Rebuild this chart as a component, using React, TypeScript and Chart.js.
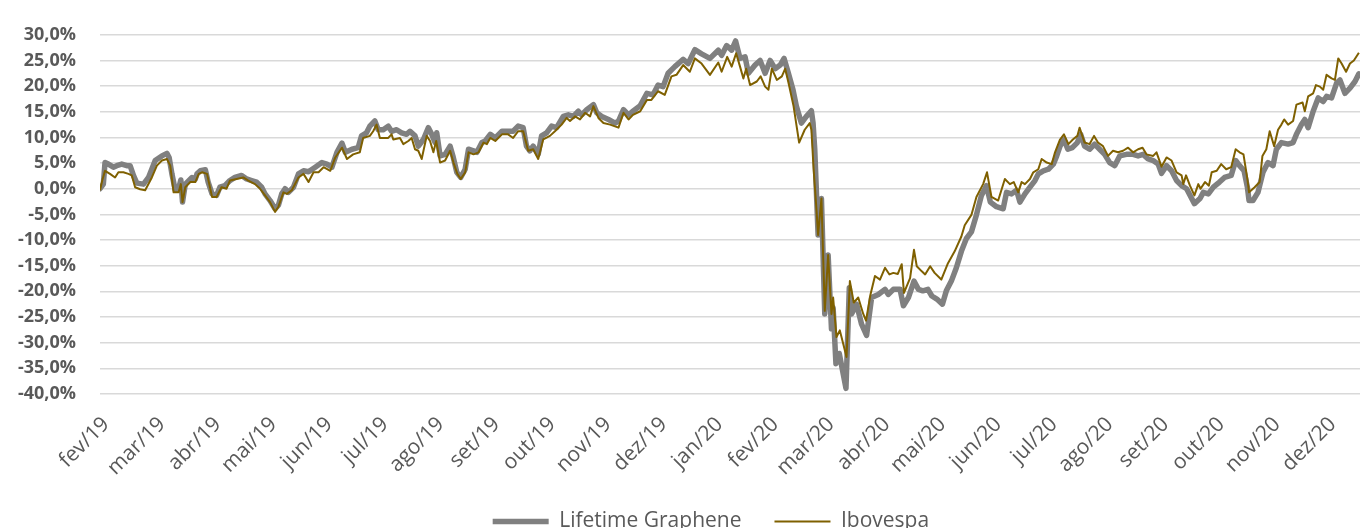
import React, { useEffect, useRef } from 'react';
import { Chart, registerables } from 'chart.js';

Chart.register(...registerables);

// Month tick labels (x = months since fev/19)
const monthLabels = [
  'fev/19', 'mar/19', 'abr/19', 'mai/19', 'jun/19', 'jul/19', 'ago/19', 'set/19',
  'out/19', 'nov/19', 'dez/19', 'jan/20', 'fev/20', 'mar/20', 'abr/20', 'mai/20',
  'jun/20', 'jul/20', 'ago/20', 'set/20', 'out/20', 'nov/20', 'dez/20',
];

const seriesNames = ['Lifetime Graphene', 'Ibovespa'];

// Lifetime Graphene: time (months since fev/19) and cumulative return (%)
const grapheneT = [
  -0.11, -0.05, -0.02, 0.04, 0.13, 0.19, 0.28, 0.37, 0.43, 0.49,
  0.55, 0.67, 0.76, 0.88, 1.0, 1.09, 1.13, 1.18, 1.24, 1.3,
  1.34, 1.37, 1.42, 1.54, 1.6, 1.63, 1.69, 1.78, 1.83, 1.9,
  1.98, 2.04, 2.13, 2.22, 2.31, 2.43, 2.52, 2.61, 2.7, 2.79,
  2.85, 2.94, 3.03, 3.09, 3.15, 3.21, 3.27, 3.36, 3.45, 3.54,
  3.63, 3.75, 3.87, 3.96, 4.05, 4.14, 4.23, 4.29, 4.41, 4.52,
  4.58, 4.67, 4.73, 4.82, 4.88, 4.97, 5.06, 5.12, 5.21, 5.3,
  5.39, 5.45, 5.54, 5.6, 5.69, 5.78, 5.84, 5.9, 5.93, 5.99,
  6.08, 6.17, 6.22, 6.29, 6.36, 6.44, 6.5, 6.59, 6.65, 6.74,
  6.8, 6.89, 6.98, 7.1, 7.21, 7.3, 7.39, 7.48, 7.54, 7.6,
  7.66, 7.75, 7.81, 7.9, 7.99, 8.08, 8.2, 8.29, 8.38, 8.47,
  8.53, 8.62, 8.74, 8.8, 8.89, 9.01, 9.13, 9.19, 9.28, 9.37,
  9.45, 9.58, 9.7, 9.81, 9.9, 9.99, 10.08, 10.2, 10.35, 10.44,
  10.56, 10.68, 10.83, 10.98, 11.04, 11.13, 11.22, 11.29, 11.37, 11.46,
  11.52, 11.64, 11.73, 11.82, 11.91, 12.0, 12.09, 12.16, 12.23, 12.32,
  12.38, 12.47, 12.56, 12.65, 12.68, 12.71, 12.77, 12.83, 12.89, 12.95,
  13.01, 13.04, 13.09, 13.15, 13.27, 13.33, 13.37, 13.46, 13.55, 13.64,
  13.73, 13.85, 13.97, 14.03, 14.12, 14.24, 14.3, 14.39, 14.49, 14.57,
  14.65, 14.74, 14.81, 14.9, 15.0, 15.07, 15.16, 15.25, 15.34, 15.43,
  15.52, 15.61, 15.7, 15.79, 15.86, 15.97, 16.09, 16.15, 16.24, 16.33,
  16.39, 16.48, 16.57, 16.66, 16.72, 16.81, 16.9, 16.99, 17.05, 17.11,
  17.18, 17.25, 17.33, 17.42, 17.48, 17.55, 17.64, 17.73, 17.82, 17.91,
  18.0, 18.09, 18.18, 18.3, 18.42, 18.51, 18.6, 18.69, 18.78, 18.87,
  18.93, 19.02, 19.11, 19.2, 19.29, 19.38, 19.52, 19.62, 19.68, 19.77,
  19.86, 19.97, 20.06, 20.18, 20.26, 20.33, 20.41, 20.47, 20.5, 20.57,
  20.66, 20.75, 20.84, 20.93, 20.99, 21.08, 21.2, 21.29, 21.35, 21.44,
  21.5, 21.56, 21.65, 21.74, 21.83, 21.89, 21.98, 22.07, 22.13, 22.22,
  22.31, 22.4, 22.47,
];
const grapheneV = [
  0.0, 0.9, 5.1, 4.8, 4.2, 4.5, 4.8, 4.5, 4.5, 2.6,
  1.1, 0.9, 2.2, 5.5, 6.4, 6.9, 6.1, 2.9, -0.3, 0.0,
  1.7, -2.6, 0.9, 2.2, 1.9, 2.9, 3.5, 3.7, 1.3, -1.0,
  -1.3, 0.3, 0.6, 1.6, 2.2, 2.6, 1.9, 1.6, 1.3, 0.3,
  -1.0, -2.3, -3.9, -3.2, -1.0, 0.0, -0.7, 0.3, 2.9, 3.5,
  3.3, 4.2, 5.1, 4.8, 4.2, 7.1, 8.9, 7.1, 7.7, 8.0,
  10.3, 10.9, 12.2, 13.2, 11.5, 11.5, 12.2, 11.2, 11.5, 10.9,
  10.6, 11.2, 10.3, 8.3, 9.6, 11.9, 10.6, 9.0, 10.9, 6.4,
  6.7, 8.3, 6.4, 3.2, 2.2, 3.8, 7.7, 7.4, 7.1, 9.0,
  9.3, 10.6, 9.9, 11.2, 11.2, 11.2, 12.2, 11.9, 8.3, 7.4,
  8.3, 6.7, 10.3, 10.9, 12.2, 11.9, 14.1, 14.4, 14.1, 15.1,
  14.4, 15.4, 16.4, 14.8, 14.1, 13.5, 12.8, 13.2, 15.4, 14.4,
  15.1, 16.2, 18.6, 18.3, 20.2, 19.9, 22.5, 23.8, 25.2, 24.4,
  27.1, 26.3, 25.4, 27.0, 26.0, 27.9, 27.0, 28.8, 25.4, 25.7,
  22.5, 24.1, 25.0, 22.5, 25.0, 23.4, 24.1, 25.4, 22.8, 19.3,
  16.1, 12.8, 14.1, 15.2, 12.8, 7.7, -9.0, -1.9, -24.4, -12.9,
  -27.3, -23.2, -34.1, -32.1, -38.9, -19.3, -24.4, -22.5, -26.4, -28.6,
  -21.2, -20.6, -19.6, -20.6, -19.6, -19.6, -22.8, -21.2, -18.0, -19.6,
  -19.9, -19.6, -20.9, -21.5, -22.5, -19.9, -18.0, -15.4, -12.2, -9.7,
  -8.4, -5.1, -1.3, 0.6, -2.6, -3.5, -3.9, -0.7, -1.0, -0.3,
  -2.6, -1.0, 0.3, 1.6, 2.9, 3.5, 3.8, 4.8, 6.4, 8.3,
  9.6, 7.7, 8.0, 9.0, 10.6, 8.3, 7.7, 8.7, 7.7, 6.7,
  5.1, 4.5, 6.4, 6.7, 6.7, 6.4, 6.7, 5.8, 5.5, 4.8,
  3.0, 4.5, 3.5, 1.6, 0.6, 0.0, -2.9, -1.9, -0.7, -1.0,
  0.3, 1.3, 2.2, 2.6, 5.5, 4.5, 3.5, 0.3, -2.3, -2.3,
  -0.7, 3.2, 5.1, 4.5, 7.7, 9.0, 8.7, 9.0, 10.6, 12.5,
  13.5, 11.9, 15.1, 17.7, 17.0, 18.0, 17.7, 20.6, 21.2, 18.6,
  19.6, 20.9, 22.4,
];

// Ibovespa: time (months since fev/19) and cumulative return (%)
const ibovespaT = [
  -0.11, -0.07, -0.02, 0.07, 0.16, 0.22, 0.31, 0.4, 0.46, 0.52,
  0.61, 0.7, 0.82, 0.91, 1.0, 1.09, 1.15, 1.21, 1.3, 1.34,
  1.37, 1.42, 1.51, 1.6, 1.66, 1.72, 1.81, 1.9, 1.98, 2.07,
  2.16, 2.22, 2.34, 2.46, 2.55, 2.67, 2.76, 2.85, 2.94, 3.03,
  3.09, 3.18, 3.24, 3.33, 3.45, 3.54, 3.63, 3.72, 3.81, 3.9,
  4.02, 4.11, 4.23, 4.32, 4.43, 4.55, 4.61, 4.73, 4.79, 4.85,
  4.91, 5.06, 5.12, 5.15, 5.27, 5.33, 5.42, 5.48, 5.54, 5.6,
  5.66, 5.75, 5.81, 5.87, 5.92, 5.99, 6.08, 6.17, 6.23, 6.3,
  6.36, 6.44, 6.5, 6.59, 6.68, 6.77, 6.83, 6.89, 6.98, 7.1,
  7.21, 7.3, 7.39, 7.48, 7.57, 7.66, 7.75, 7.84, 7.96, 8.05,
  8.17, 8.26, 8.32, 8.41, 8.5, 8.59, 8.68, 8.74, 8.83, 8.92,
  9.04, 9.19, 9.28, 9.37, 9.45, 9.58, 9.7, 9.78, 9.9, 10.02,
  10.14, 10.23, 10.35, 10.47, 10.56, 10.68, 10.83, 10.98, 11.04, 11.14,
  11.22, 11.3, 11.37, 11.43, 11.48, 11.55, 11.67, 11.74, 11.82, 11.88,
  11.94, 12.03, 12.12, 12.18, 12.24, 12.33, 12.43, 12.53, 12.62, 12.65,
  12.69, 12.74, 12.77, 12.83, 12.89, 12.95, 13.01, 13.04, 13.1, 13.16,
  13.28, 13.34, 13.41, 13.49, 13.58, 13.63, 13.71, 13.79, 13.88, 13.97,
  14.05, 14.12, 14.2, 14.27, 14.31, 14.42, 14.49, 14.54, 14.63, 14.69,
  14.78, 14.86, 14.98, 15.1, 15.22, 15.34, 15.4, 15.52, 15.61, 15.73,
  15.8, 15.88, 16.0, 16.12, 16.21, 16.28, 16.36, 16.42, 16.48, 16.57,
  16.63, 16.72, 16.78, 16.87, 16.96, 17.02, 17.11, 17.18, 17.26, 17.34,
  17.42, 17.46, 17.55, 17.64, 17.72, 17.79, 17.88, 17.97, 18.06, 18.15,
  18.24, 18.33, 18.42, 18.51, 18.59, 18.66, 18.78, 18.84, 18.93, 19.02,
  19.11, 19.2, 19.29, 19.32, 19.37, 19.44, 19.52, 19.59, 19.63, 19.71,
  19.78, 19.83, 19.92, 20.0, 20.09, 20.18, 20.26, 20.33, 20.4, 20.47,
  20.5, 20.6, 20.69, 20.74, 20.81, 20.87, 20.95, 21.02, 21.08, 21.13,
  21.2, 21.29, 21.35, 21.46, 21.5, 21.56, 21.65, 21.7, 21.77, 21.83,
  21.89, 21.98, 22.04, 22.1, 22.16, 22.24, 22.31, 22.38, 22.47,
];
const ibovespaV = [
  -0.3, 1.6, 3.5, 2.9, 2.2, 3.2, 3.2, 2.9, 2.6, 0.3,
  -0.1, -0.3, 2.2, 4.5, 5.5, 5.8, 4.5, -0.7, -0.7, 0.9,
  -2.6, 0.3, 1.3, 1.3, 2.9, 3.2, 2.9, -1.6, -1.6, 0.3,
  0.0, 1.6, 1.9, 2.2, 1.6, 0.9, 0.0, -1.3, -2.6, -4.5,
  -3.5, -0.7, -1.0, -0.3, 2.2, 2.9, 1.3, 3.2, 3.2, 4.2,
  3.5, 6.1, 8.0, 5.8, 6.7, 7.1, 9.9, 10.3, 11.2, 12.5,
  9.9, 9.9, 10.6, 9.6, 9.9, 8.7, 9.3, 9.9, 7.7, 7.4,
  5.8, 10.3, 9.3, 7.1, 9.3, 5.1, 5.5, 7.4, 5.1, 2.9,
  1.9, 3.2, 7.1, 6.7, 7.1, 9.0, 8.7, 9.9, 9.3, 10.6,
  10.6, 9.9, 11.2, 11.2, 7.4, 7.7, 5.8, 9.6, 10.3, 11.2,
  12.5, 13.8, 13.2, 14.1, 13.5, 14.8, 14.1, 16.1, 13.8, 12.8,
  12.5, 11.9, 14.8, 13.5, 14.4, 15.1, 17.3, 17.3, 19.0, 18.3,
  21.9, 22.2, 24.1, 22.8, 25.4, 24.4, 22.2, 24.6, 22.8, 25.7,
  23.8, 26.4, 23.8, 21.5, 23.4, 20.2, 20.9, 21.9, 19.9, 19.3,
  23.4, 21.2, 21.9, 23.4, 20.6, 16.1, 9.0, 11.5, 12.8, 11.5,
  3.8, -3.9, -9.0, -1.9, -23.8, -12.9, -24.4, -21.2, -28.9, -27.6,
  -32.8, -18.0, -22.2, -21.2, -24.4, -25.7, -20.6, -17.0, -17.7, -15.4,
  -16.7, -16.4, -16.6, -14.7, -20.3, -17.4, -11.9, -15.1, -16.1, -16.7,
  -15.1, -16.4, -17.7, -14.5, -12.2, -9.3, -7.1, -5.1, -1.6, 0.9,
  3.2, -1.6, -2.3, 1.9, 0.9, 1.3, -0.7, 1.3, 0.9, 1.9,
  3.2, 3.8, 5.8, 5.1, 4.8, 7.1, 9.6, 10.6, 8.7, 9.6,
  10.3, 11.9, 9.0, 8.7, 10.3, 9.0, 8.3, 6.4, 7.4, 7.1,
  7.4, 8.0, 7.1, 7.7, 8.0, 6.7, 6.4, 7.1, 4.3, 6.1,
  5.5, 3.2, 2.6, 0.9, 2.6, 0.6, -1.3, 0.9, 0.0, 1.3,
  0.6, 3.2, 3.5, 4.8, 3.8, 4.2, 7.7, 7.1, 6.7, 1.9,
  -0.7, 0.3, 1.3, 6.4, 7.7, 11.2, 8.3, 11.5, 12.5, 13.5,
  12.5, 13.2, 16.4, 16.8, 15.1, 18.0, 18.6, 20.2, 19.9, 19.3,
  22.2, 21.5, 21.2, 25.4, 24.4, 22.8, 24.4, 25.0, 26.5,
];

// Axis ranges
const yMin = -40;
const yMax = 30;
const yStep = 5;
const xMin = -0.11;
const xMax = 22.49;

const FONT = "'Open Sans', 'DejaVu Sans', sans-serif";
const TEXT = '#595959';

export default function App() {
  const canvasRef = useRef<HTMLCanvasElement | null>(null);

  useEffect(() => {
    document.body.style.margin = '0';
    const canvas = canvasRef.current;
    if (!canvas) return;

    const toPoints = (t: number[], v: number[]) => t.map((x, i) => ({ x, y: v[i] }));

    const chart = new Chart(canvas, {
      type: 'line',
      data: {
        datasets: [
          {
            label: seriesNames[0],
            data: toPoints(grapheneT, grapheneV),
            borderColor: '#808080',
            backgroundColor: '#808080',
            borderWidth: 5.5,
            pointRadius: 0,
            borderJoinStyle: 'round',
            borderCapStyle: 'round',
            tension: 0,
            order: 2,
          },
          {
            label: seriesNames[1],
            data: toPoints(ibovespaT, ibovespaV),
            borderColor: '#7f6000',
            backgroundColor: '#7f6000',
            borderWidth: 2,
            pointRadius: 0,
            borderJoinStyle: 'round',
            tension: 0,
            order: 1,
          },
        ],
      },
      options: {
        responsive: false,
        animation: false,
        layout: { padding: { top: 31, left: 0, right: 0, bottom: 0 } },
        font: { family: FONT },
        scales: {
          x: {
            type: 'linear',
            min: xMin,
            max: xMax,
            grid: { display: false, drawTicks: false },
            border: { display: false },
            ticks: {
              autoSkip: false,
              minRotation: 45,
              maxRotation: 45,
              padding: 18,
              color: TEXT,
              font: { family: FONT, size: 21 },
              callback: (value: any) => monthLabels[Math.round(Number(value))] ?? '',
            },
            afterBuildTicks: (scale: any) => {
              scale.ticks = monthLabels.map((_, i) => ({ value: i }));
            },
            afterFit: (scale: any) => {
              scale.height = 84;
              scale.paddingLeft = 0;
              scale.paddingRight = 0;
            },
          },
          y: {
            min: yMin,
            max: yMax,
            grid: { color: '#d9d9d9', lineWidth: 1.5, drawTicks: false },
            border: { display: false },
            ticks: {
              stepSize: yStep,
              padding: 24,
              color: TEXT,
              font: { family: FONT, size: 18, weight: 'bold' },
              callback: (value: any) => Number(value).toFixed(1).replace('.', ',') + '%',
            },
            afterFit: (scale: any) => {
              scale.width = 100;
            },
          },
        },
        plugins: {
          tooltip: { enabled: false },
          legend: {
            position: 'bottom',
            fullSize: false,
            labels: {
              usePointStyle: true,
              pointStyle: 'line',
              pointStyleWidth: 56,
              padding: 33,
              color: TEXT,
              font: { family: FONT, size: 21 },
              sort: (a: any, b: any) => a.datasetIndex - b.datasetIndex,
              generateLabels: (ch: any) => {
                const items = Chart.defaults.plugins.legend.labels.generateLabels(ch);
                return items.map((it: any) =>
                  it.datasetIndex === 1 ? { ...it, text: it.text + '       ' } : it
                );
              },
            },
          },
        },
      },
    });

    return () => chart.destroy();
  }, []);

  return (
    <div style={{ position: 'absolute', left: 0, top: 0, width: 1360, height: 528, overflow: 'hidden', background: '#fff' }}>
      <canvas ref={canvasRef} width={1360} height={542} style={{ display: 'block', width: 1360, height: 542 }} />
    </div>
  );
}
